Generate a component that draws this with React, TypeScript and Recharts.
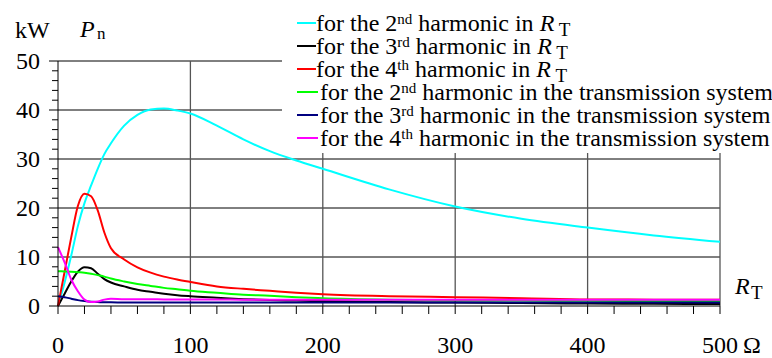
import React from 'react';
import { LineChart, Line, XAxis, YAxis, ReferenceLine } from 'recharts';

// R_T in ohm
const resistance = [0, 5, 10, 15, 20, 25, 30, 35, 40, 50, 60, 70, 80, 90, 100, 120, 140, 160, 180, 200, 250, 300, 350, 400, 450, 500];
// P_n in kW
const h2InRT = [0, 4.8, 10.3, 16.3, 21, 24.6, 28, 31, 33.2, 36.8, 39, 40.1, 40.3, 39.9, 39.3, 36.8, 34.0, 31.6, 29.7, 28.0, 23.8, 20.3, 17.8, 16.0, 14.4, 13.1];
const h3InRT = [0, 2.5, 5.0, 7.0, 7.9, 7.7, 6.6, 5.5, 4.8, 4.0, 3.3, 2.9, 2.5, 2.2, 2.0, 1.7, 1.4, 1.2, 1.1, 1.0, 0.8, 0.7, 0.6, 0.5, 0.45, 0.4];
const h4InRT = [0, 7.0, 14.0, 20.4, 22.9, 22.4, 19.5, 15.0, 11.8, 9.5, 7.9, 6.8, 6.0, 5.4, 4.9, 4.0, 3.5, 3.1, 2.7, 2.4, 2.0, 1.8, 1.6, 1.35, 1.3, 1.3];
const h2InSystem = [7.1, 7.05, 7.0, 6.9, 6.8, 6.6, 6.3, 6.0, 5.6, 5.0, 4.5, 4.1, 3.7, 3.4, 3.1, 2.7, 2.3, 2.1, 1.8, 1.6, 1.3, 1.15, 1.1, 1.05, 1.0, 1.0];
const h3InSystem = [2.0, 1.8, 1.5, 1.2, 1.0, 0.85, 0.8, 0.75, 0.75, 0.72, 0.72, 0.72, 0.72, 0.72, 0.72, 0.72, 0.72, 0.72, 0.72, 0.72, 0.72, 0.72, 0.72, 0.72, 0.72, 0.72];
const h4InSystem = [12, 8.9, 5.4, 3.0, 1.3, 0.8, 0.9, 1.3, 1.5, 1.4, 1.4, 1.4, 1.35, 1.35, 1.35, 1.35, 1.3, 1.3, 1.3, 1.3, 1.3, 1.3, 1.3, 1.3, 1.3, 1.3];

const xTicks = [0, 20, 40, 60, 80, 100, 120, 140, 160, 180, 200, 220, 240, 260, 280, 300, 320, 340, 360, 380, 400, 420, 440, 460, 480, 500];
const yTicks = [0, 2, 4, 6, 8, 10, 12, 14, 16, 18, 20, 22, 24, 26, 28, 30, 32, 34, 36, 38, 40, 42, 44, 46, 48, 50];
const xGrid = [100, 200, 300, 400, 500];
const yGrid = [10, 20, 30, 40, 50];

const data = resistance.map((r, i) => ({
  r,
  h2InRT: h2InRT[i],
  h3InRT: h3InRT[i],
  h4InRT: h4InRT[i],
  h2InSystem: h2InSystem[i],
  h3InSystem: h3InSystem[i],
  h4InSystem: h4InSystem[i],
}));

const FONT = 'Liberation Serif';

const YTick = (props: any) => {
  const { x, y, payload } = props;
  const v = payload.value;
  const major = v % 10 === 0;
  return (
    <g>
      <line x1={x - (major ? 9 : 6)} x2={x} y1={y} y2={y} stroke="#000" strokeWidth={1} />
      {major && (
        <text x={x - 18} y={y} dy={8} textAnchor="end" fontSize={24} fontFamily={FONT} fill="#000">
          {v}
        </text>
      )}
    </g>
  );
};

const XTick = (props: any) => {
  const { x, y, payload } = props;
  const v = payload.value;
  const major = v % 100 === 0;
  return (
    <g>
      <line x1={x} x2={x} y1={y} y2={y + 8} stroke="#000" strokeWidth={1} />
      {major && (
        <text x={x} y={y + 47} textAnchor="middle" fontSize={24} fontFamily={FONT} fill="#000">
          {v}
        </text>
      )}
      {v === 500 && (
        <text x={x + 23} y={y + 47} textAnchor="start" fontSize={24} fontFamily={FONT} fill="#000">
          Ω
        </text>
      )}
    </g>
  );
};

const series = [
  { key: 'h2InRT', color: '#00ffff', ord: '2', sup: 'nd', sys: false },
  { key: 'h3InRT', color: '#000000', ord: '3', sup: 'rd', sys: false },
  { key: 'h4InRT', color: '#ff0000', ord: '4', sup: 'th', sys: false },
  { key: 'h2InSystem', color: '#00ff00', ord: '2', sup: 'nd', sys: true },
  { key: 'h3InSystem', color: '#000080', ord: '3', sup: 'rd', sys: true },
  { key: 'h4InSystem', color: '#ff00ff', ord: '4', sup: 'th', sys: true },
];

export default function App() {
  return (
    <div style={{ position: 'absolute', left: 0, top: 0, width: 772, height: 358, background: '#fff' }}>
      <LineChart
        width={772}
        height={358}
        data={data}
        margin={{ top: 61, right: 52, bottom: 0, left: 0 }}
      >
        {yGrid.map((v) => (
          <ReferenceLine key={'y' + v} y={v} stroke="#000" strokeWidth={1} />
        ))}
        {xGrid.map((v) => (
          <ReferenceLine key={'x' + v} x={v} stroke="#555" strokeWidth={1.3} />
        ))}
        <XAxis
          dataKey="r"
          type="number"
          domain={[0, 500]}
          ticks={xTicks}
          interval={0}
          tickSize={0}
          tickMargin={0}
          tickLine={false}
          tick={<XTick />}
          height={52}
          axisLine={{ stroke: '#000', strokeWidth: 1 }}
        />
        <YAxis
          type="number"
          domain={[0, 50]}
          ticks={yTicks}
          interval={0}
          tickSize={0}
          tickMargin={0}
          tickLine={false}
          tick={<YTick />}
          width={58}
          axisLine={{ stroke: '#000', strokeWidth: 1 }}
        />
        {series.map((s) => (
          <Line
            key={s.key}
            type="monotone"
            dataKey={s.key}
            stroke={s.color}
            strokeWidth={2}
            dot={false}
            isAnimationActive={false}
          />
        ))}
      </LineChart>
      <svg
        width={772}
        height={358}
        style={{ position: 'absolute', left: 0, top: 0, pointerEvents: 'none' }}
      >
        <rect x={282} y={0} width={490} height={153} fill="#fff" />
        <text x={15} y={38} fontSize={24} fill="#000" fontFamily={FONT}>kW</text>
        <text x={80} y={37} fontSize={24} fontStyle="italic" fill="#000" fontFamily={FONT}>P</text>
        <text x={97} y={39} fontSize={17} fill="#000" fontFamily={FONT}>n</text>
        <text x={735} y={294} fontSize={24} fontStyle="italic" fill="#000" fontFamily={FONT}>R</text>
        <text x={751} y={299} fontSize={19} fill="#000" fontFamily={FONT}>T</text>
        {series.map((s, i) => {
          const base = 31 + i * 23;
          const lineEnd = s.sys ? 318 : 316;
          const textX = s.sys ? 320 : 316;
          return (
            <g key={'leg' + s.key}>
              <line x1={297} x2={lineEnd} y1={base - 8} y2={base - 8} stroke={s.color} strokeWidth={2} />
              <text x={textX} y={base} fontSize={24} fill="#000" fontFamily={FONT}>
                {'for the ' + s.ord}
                <tspan dy={-7} fontSize={15}>{s.sup}</tspan>
                <tspan dy={7}>{s.sys ? ' harmonic in the transmission system' : ' harmonic in '}</tspan>
                {!s.sys && <tspan fontStyle="italic">R</tspan>}
                {!s.sys && <tspan dy={5} fontSize={19}>{' T'}</tspan>}
              </text>
            </g>
          );
        })}
      </svg>
    </div>
  );
}
